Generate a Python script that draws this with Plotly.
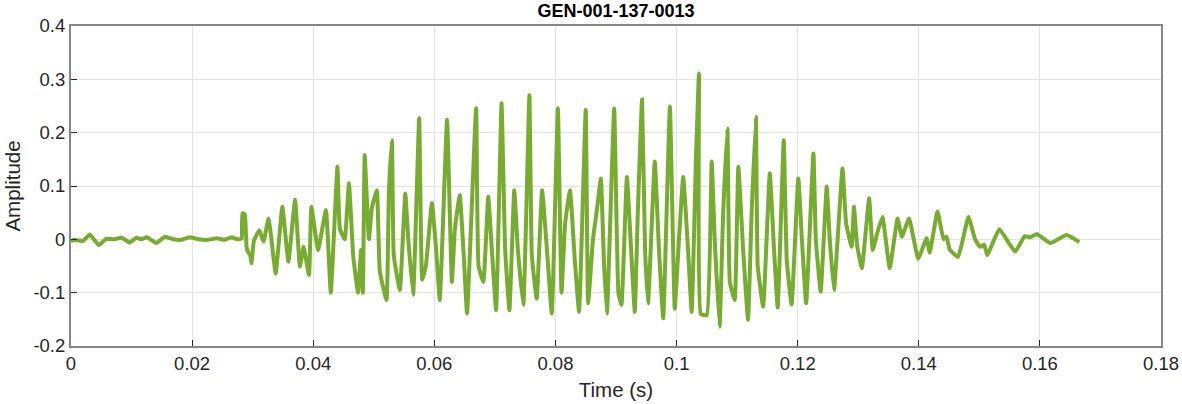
import plotly.graph_objects as go

title_text = "GEN-001-137-0013"
x_title = "Time (s)"
y_title = "Amplitude"

x_ticks = [0, 0.02, 0.04, 0.06, 0.08, 0.1, 0.12, 0.14, 0.16, 0.18]
x_tick_labels = ["0", "0.02", "0.04", "0.06", "0.08", "0.1", "0.12", "0.14", "0.16", "0.18"]
y_ticks = [-0.2, -0.1, 0, 0.1, 0.2, 0.3, 0.4]
y_tick_labels = ["-0.2", "-0.1", "0", "0.1", "0.2", "0.3", "0.4"]

# time (s) of waveform points
time_s = [
    0.0, 0.0005, 0.0012, 0.0020, 0.0031, 0.0046, 0.0058, 0.0070, 0.0084, 0.0097,
    0.0108, 0.0116, 0.0125, 0.0141, 0.0155, 0.0169, 0.0182, 0.0196, 0.0211, 0.0226,
    0.0241, 0.0253, 0.0265, 0.0274, 0.0280, 0.0282,
    0.0283, 0.0287, 0.0290, 0.0293, 0.0296, 0.0298, 0.0302, 0.0311, 0.0318, 0.0326,
    0.0330, 0.0338, 0.0349, 0.0359, 0.0370, 0.0378, 0.0384, 0.0393, 0.0397, 0.0408,
    0.0421, 0.0429, 0.0440, 0.0444, 0.0452, 0.0459, 0.0466, 0.0474, 0.0479, 0.0482,
    0.0485, 0.0492, 0.0497, 0.0505, 0.0510, 0.0521, 0.0525, 0.0530, 0.0533, 0.0543,
    0.0552, 0.0557, 0.0565, 0.0575, 0.0580, 0.0586, 0.0596, 0.0603, 0.0609, 0.0621,
    0.0629, 0.0634, 0.0642, 0.0649, 0.0654, 0.0669, 0.0673, 0.0681, 0.0689, 0.0695,
    0.0702, 0.0711, 0.0717, 0.0724, 0.0732, 0.0738, 0.0747, 0.0757, 0.0761, 0.0769,
    0.0778, 0.0786, 0.0794, 0.0804, 0.0810, 0.0816, 0.0824, 0.0832, 0.0839, 0.0850,
    0.0854, 0.0862, 0.0869, 0.0875, 0.0880, 0.0885, 0.0897, 0.0904, 0.0909, 0.0918,
    0.0925, 0.0931, 0.0936, 0.0943, 0.0948, 0.0953, 0.0964, 0.0971, 0.0978, 0.0989,
    0.0997, 0.1004, 0.1011, 0.1019, 0.1025, 0.1032, 0.1037, 0.1040, 0.1050, 0.1058,
    0.1063, 0.1071, 0.1077, 0.1084, 0.1088, 0.1096, 0.1102, 0.1110, 0.1118, 0.1124,
    0.1131, 0.1134, 0.1143, 0.1154, 0.1161, 0.1167, 0.1177, 0.1182, 0.1190, 0.1201,
    0.1207, 0.1214, 0.1226, 0.1230, 0.1238, 0.1248, 0.1253, 0.1260, 0.1274, 0.1280,
    0.1289, 0.1293, 0.1298, 0.1306, 0.1318, 0.1324, 0.1331, 0.1340, 0.1352, 0.1365,
    0.1372, 0.1384, 0.1399, 0.1413, 0.1418, 0.1431, 0.1441, 0.1446, 0.1451, 0.1465,
    0.1482, 0.1493, 0.1501, 0.1508, 0.1513, 0.1533, 0.1559, 0.1575, 0.1584, 0.1595,
    0.1617, 0.1644, 0.1665,
]

# amplitude of each point
amplitude = [
    -0.004, -0.001, -0.002, -0.003, 0.009, -0.011, 0.001, 0.000, 0.003, -0.006,
    0.003, 0.000, 0.004, -0.007, 0.005, 0.000, -0.001, 0.004, 0.000, -0.001,
    0.002, -0.001, 0.004, 0.000, 0.001, 0.002,
    0.049, 0.047, -0.015, -0.025, -0.030, -0.045, -0.003, 0.017, -0.004, 0.039,
    0.010, -0.064, 0.061, -0.042, 0.074, -0.051, -0.014, -0.067, 0.061, -0.020,
    0.055, -0.100, 0.136, 0.020, 0.000, 0.105, -0.030, -0.100, -0.020, -0.100,
    0.158, 0.000, 0.060, 0.092, -0.060, -0.114, 0.090, 0.186, -0.030, -0.095,
    0.086, 0.000, -0.104, 0.227, -0.076, -0.050, 0.068, -0.020, -0.114, 0.224,
    -0.080, 0.020, 0.083, -0.040, -0.139, 0.246, -0.050, -0.080, 0.080, -0.020,
    -0.133, 0.255, -0.020, -0.133, 0.092, -0.020, -0.123, 0.270, -0.030, -0.111,
    0.092, -0.020, -0.139, 0.246, -0.100, 0.030, 0.092, -0.040, -0.136, 0.243,
    -0.120, 0.000, 0.060, 0.114, -0.040, -0.139, 0.245, -0.100, -0.123, 0.117,
    -0.020, -0.136, 0.050, 0.262, -0.020, -0.120, 0.146, -0.020, -0.148, 0.249,
    -0.130, 0.000, 0.117, -0.020, -0.136, 0.150, 0.311, -0.140, -0.142, 0.146,
    0.000, -0.164, 0.050, 0.208, -0.080, -0.114, 0.136, -0.020, -0.151, 0.050,
    0.230, -0.050, -0.126, 0.124, -0.020, -0.128, 0.186, -0.040, -0.122, 0.114,
    0.000, -0.120, 0.161, 0.000, -0.098, 0.099, 0.000, -0.095, 0.133, 0.030,
    -0.014, 0.061, -0.010, -0.054, 0.077, -0.020, 0.010, 0.042, -0.054, 0.039,
    0.005, 0.039, -0.036, 0.002, -0.025, 0.052, 0.000, 0.005, -0.019, -0.033,
    0.042, 0.000, -0.014, -0.010, -0.030, 0.019, -0.023, 0.006, 0.004, 0.010,
    -0.007, 0.008, -0.005,
]

line_color = "#77AC30"
axis_color = "#868686"
tick_color = "#262626"
grid_color = "#e3e3e3"
text_color = "#262626"
font_family = "Liberation Sans, Arial, sans-serif"

fig = go.Figure()
fig.add_trace(go.Scatter(
    x=time_s, y=amplitude, mode="lines",
    line=dict(color=line_color, width=4, shape="spline", smoothing=0.35),
    showlegend=False, hoverinfo="skip",
))

fig.update_layout(
    width=1182, height=404,
    margin=dict(l=71, r=21, t=26, b=58),
    paper_bgcolor="white", plot_bgcolor="white",
    font=dict(family=font_family, color=text_color, size=18),
    title=dict(text="<b>" + title_text + "</b>", x=0.5, xanchor="center",
               xref="paper", y=1 - 11 / 404, yanchor="middle",
               font=dict(size=18, color="#000000", family=font_family)),
)
fig.update_xaxes(
    range=[0, 0.18], tickvals=x_ticks, ticktext=x_tick_labels,
    showgrid=True, gridcolor=grid_color, gridwidth=1,
    showline=True, linecolor=axis_color, linewidth=2, mirror=True,
    ticks="inside", ticklen=6, tickcolor=tick_color, tickwidth=1,
    zeroline=False, automargin=False,
    tickfont=dict(size=18.5, color=text_color),
    title=dict(text=x_title, font=dict(size=20.5, color=text_color), standoff=9),
)
fig.update_yaxes(
    range=[-0.2, 0.4], tickvals=y_ticks, ticktext=y_tick_labels,
    showgrid=True, gridcolor=grid_color, gridwidth=1,
    showline=True, linecolor=axis_color, linewidth=2, mirror=True,
    ticks="inside", ticklen=6, tickcolor=tick_color, tickwidth=1,
    zeroline=False, automargin=False,
    tickfont=dict(size=18.5, color=text_color),
    title=dict(text=y_title, font=dict(size=20.5, color=text_color), standoff=7),
)

fig.write_html("out.html", config={"displayModeBar": False},
               post_script="document.body.style.margin='0px';")
